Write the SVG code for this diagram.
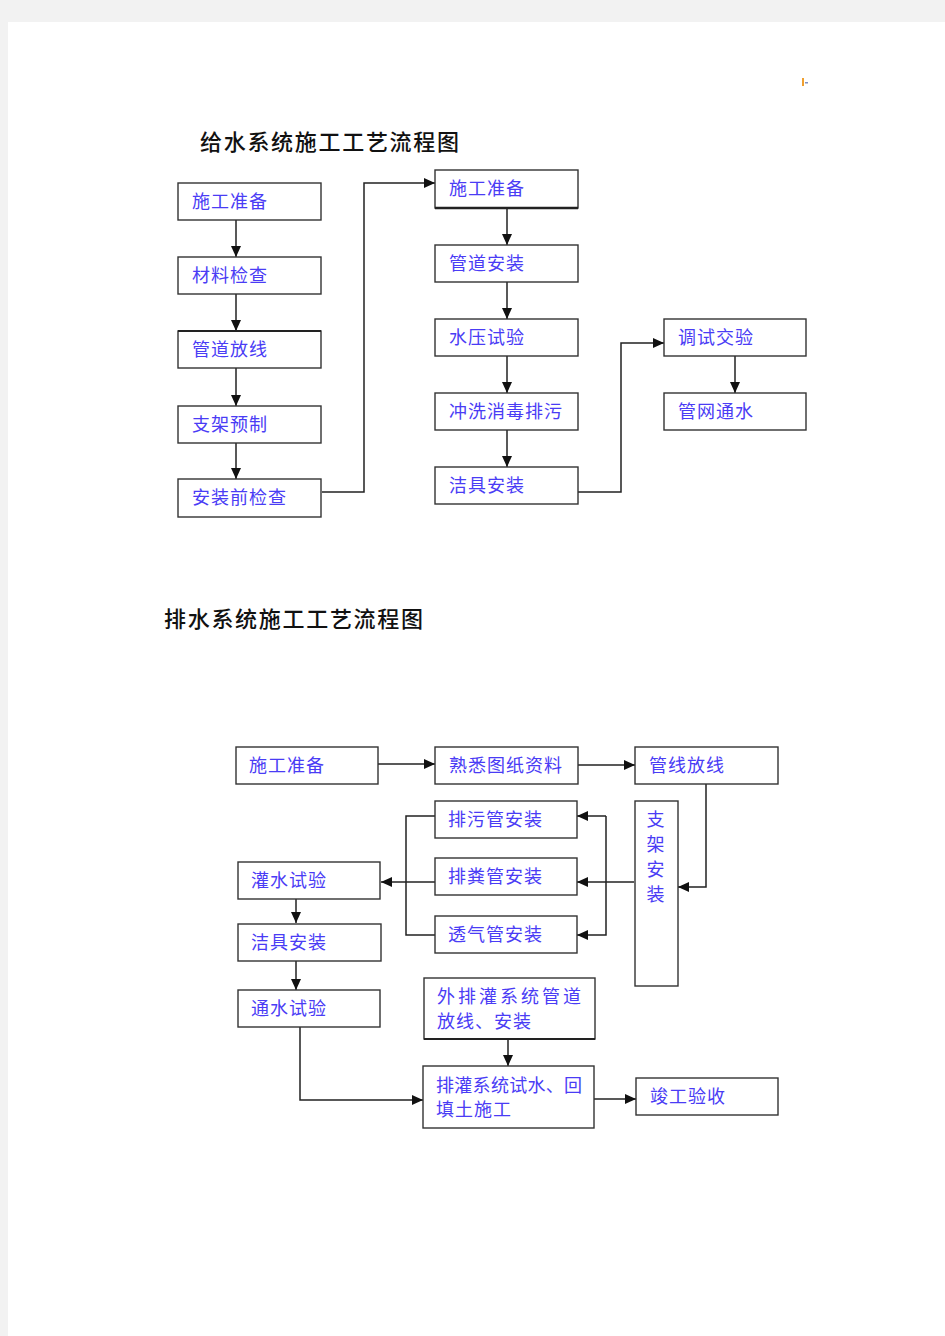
<svg xmlns="http://www.w3.org/2000/svg" width="945" height="1336" viewBox="0 0 945 1336">
<style>
.box{fill:#fff;stroke:#333;stroke-width:1.4}
.t{font-family:"Noto Sans CJK SC","Noto Sans",sans-serif;font-size:18px;fill:#4a3cf5;letter-spacing:1px}
.title{font-family:"Noto Sans CJK SC","Noto Sans",sans-serif;font-size:22px;fill:#111;letter-spacing:1.7px;font-weight:500}
.c{fill:none;stroke:#222;stroke-width:1.5}
</style>
<defs>
<marker id="ah" markerWidth="11" markerHeight="10" refX="11" refY="5" orient="auto" markerUnits="userSpaceOnUse">
<path d="M0,0 L11,5 L0,10 z" fill="#111"/>
</marker>
</defs>
<rect x="0" y="0" width="945" height="1336" fill="#f2f2f2"/>
<rect x="8" y="22" width="937" height="1314" fill="#fff"/>
<rect x="802" y="78" width="2" height="8" fill="#f0a030"/>
<rect x="805" y="82" width="3" height="1.5" fill="#8090c0"/>

<text class="title" x="200" y="150">给水系统施工工艺流程图</text>
<text class="title" x="164" y="627">排水系统施工工艺流程图</text>

<g id="connectors">
<path class="c" d="M236,220 V257" marker-end="url(#ah)"/>
<path class="c" d="M236,294 V331" marker-end="url(#ah)"/>
<path class="c" d="M236,368 V406" marker-end="url(#ah)"/>
<path class="c" d="M236,442 V479" marker-end="url(#ah)"/>
<path class="c" d="M322,492 H364 V183 H435" marker-end="url(#ah)"/>
<path class="c" d="M507,208 V245" marker-end="url(#ah)"/>
<path class="c" d="M507,282 V319" marker-end="url(#ah)"/>
<path class="c" d="M507,356 V393" marker-end="url(#ah)"/>
<path class="c" d="M507,430 V467" marker-end="url(#ah)"/>
<path class="c" d="M578,492 H621 V343 H664" marker-end="url(#ah)"/>
<path class="c" d="M735,356 V393" marker-end="url(#ah)"/>

<path class="c" d="M378,764 H435" marker-end="url(#ah)"/>
<path class="c" d="M578,765 H635" marker-end="url(#ah)"/>
<path class="c" d="M706,784 V887 H678" marker-end="url(#ah)"/>
<path class="c" d="M634,882 H577" marker-end="url(#ah)"/>
<path class="c" d="M606,882 V816" />
<path class="c" d="M606,816 H577" marker-end="url(#ah)"/>
<path class="c" d="M606,882 V935 H577" marker-end="url(#ah)"/>
<path class="c" d="M435,816 H406 V935 H435"/>
<path class="c" d="M435,882 H381" marker-end="url(#ah)"/>
<path class="c" d="M296,899 V923" marker-end="url(#ah)"/>
<path class="c" d="M296,961 V990" marker-end="url(#ah)"/>
<path class="c" d="M508,1039 V1066" marker-end="url(#ah)"/>
<path class="c" d="M300,1027 V1100 H423" marker-end="url(#ah)"/>
<path class="c" d="M594,1099 H636" marker-end="url(#ah)"/>
</g>

<g id="s1-prep"><rect class="box" x="178" y="183" width="143" height="37"/><text class="t" x="192" y="208">施工准备</text></g>
<g id="s1-material"><rect class="box" x="178" y="257" width="143" height="37"/><text class="t" x="192" y="282">材料检查</text></g>
<g id="s1-layout"><rect class="box" x="178" y="331" width="143" height="37"/><path d="M178,331 H321" stroke="#222" stroke-width="2.2"/><text class="t" x="192" y="356">管道放线</text></g>
<g id="s1-bracket"><rect class="box" x="178" y="406" width="143" height="37"/><text class="t" x="192" y="431">支架预制</text></g>
<g id="s1-precheck"><rect class="box" x="178" y="479" width="143" height="38"/><text class="t" x="192" y="504">安装前检查</text></g>

<g id="s1-prep2"><rect class="box" x="435" y="170" width="143" height="38"/><path d="M435,208 H578" stroke="#222" stroke-width="2.4"/><text class="t" x="449" y="195">施工准备</text></g>
<g id="s1-pipe"><rect class="box" x="435" y="245" width="143" height="37"/><text class="t" x="449" y="270">管道安装</text></g>
<g id="s1-pressure"><rect class="box" x="435" y="319" width="143" height="37"/><text class="t" x="449" y="344">水压试验</text></g>
<g id="s1-flush"><rect class="box" x="435" y="393" width="143" height="37"/><text class="t" x="449" y="418">冲洗消毒排污</text></g>
<g id="s1-fixture"><rect class="box" x="435" y="467" width="143" height="37"/><text class="t" x="449" y="492">洁具安装</text></g>
<g id="s1-debug"><rect class="box" x="664" y="319" width="142" height="37"/><text class="t" x="678" y="344">调试交验</text></g>
<g id="s1-network"><rect class="box" x="664" y="393" width="142" height="37"/><text class="t" x="678" y="418">管网通水</text></g>

<g id="s2-prep"><rect class="box" x="236" y="747" width="142" height="37"/><text class="t" x="249" y="772">施工准备</text></g>
<g id="s2-drawings"><rect class="box" x="435" y="747" width="143" height="37"/><text class="t" x="449" y="772">熟悉图纸资料</text></g>
<g id="s2-layout"><rect class="box" x="635" y="747" width="143" height="37"/><text class="t" x="649" y="772">管线放线</text></g>
<g id="s2-sewage"><rect class="box" x="435" y="801" width="142" height="37"/><text class="t" x="448" y="826">排污管安装</text></g>
<g id="s2-soil"><rect class="box" x="435" y="858" width="142" height="37"/><text class="t" x="448" y="883">排粪管安装</text></g>
<g id="s2-vent"><rect class="box" x="435" y="916" width="142" height="37"/><text class="t" x="448" y="941">透气管安装</text></g>
<g id="s2-bracket"><rect class="box" x="635" y="801" width="43" height="185"/>
<text class="t" x="656" y="826" text-anchor="middle">支</text>
<text class="t" x="656" y="851" text-anchor="middle">架</text>
<text class="t" x="656" y="876" text-anchor="middle">安</text>
<text class="t" x="656" y="901" text-anchor="middle">装</text></g>
<g id="s2-fill"><rect class="box" x="238" y="862" width="142" height="37"/><text class="t" x="251" y="887">灌水试验</text></g>
<g id="s2-fixture"><rect class="box" x="238" y="924" width="143" height="37"/><text class="t" x="251" y="949">洁具安装</text></g>
<g id="s2-flow"><rect class="box" x="238" y="990" width="142" height="37"/><text class="t" x="251" y="1015">通水试验</text></g>
<g id="s2-outer"><rect class="box" x="424" y="978" width="171" height="61"/><path d="M424,1039 H595" stroke="#222" stroke-width="2.2"/>
<text class="t" x="437" y="1003" style="letter-spacing:3px">外排灌系统管道</text>
<text class="t" x="437" y="1028">放线、安装</text></g>
<g id="s2-test"><rect class="box" x="423" y="1066" width="171" height="62"/>
<text class="t" x="436" y="1092" style="letter-spacing:0.3px">排灌系统试水、回</text>
<text class="t" x="436" y="1116">填土施工</text></g>
<g id="s2-accept"><rect class="box" x="636" y="1078" width="142" height="37"/><text class="t" x="650" y="1103">竣工验收</text></g>
</svg>
